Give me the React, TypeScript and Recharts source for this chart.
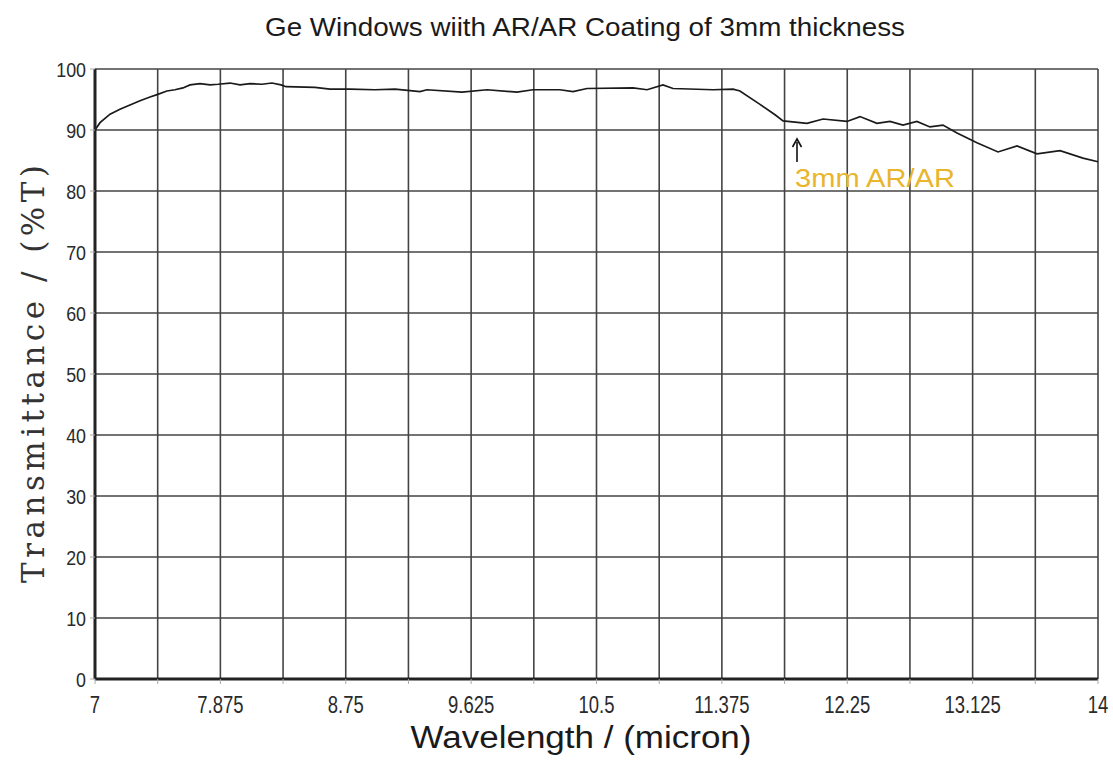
import React from 'react';
import { LineChart, Line, XAxis, YAxis, CartesianGrid } from 'recharts';

const wavelength = [
  7.0, 7.035, 7.105, 7.174, 7.244, 7.314, 7.384, 7.433, 7.502, 7.558, 7.614, 7.663,
  7.733, 7.803, 7.858, 7.942, 8.012, 8.082, 8.165, 8.235, 8.298, 8.333, 8.535, 8.64,
  8.78, 8.954, 9.094, 9.268, 9.317, 9.561, 9.736, 9.945, 10.057, 10.245, 10.336, 10.434,
  10.755, 10.853, 10.964, 11.034, 11.313, 11.453, 11.501, 11.641, 11.746, 11.802, 11.969,
  12.081, 12.248, 12.339, 12.457, 12.548, 12.639, 12.736, 12.827, 12.918, 13.016, 13.155,
  13.302, 13.435, 13.574, 13.735, 13.895, 14.0,
];
const transmittance = [
  90.0, 91.2, 92.6, 93.4, 94.1, 94.8, 95.4, 95.8, 96.4, 96.6, 96.9, 97.4,
  97.6, 97.4, 97.5, 97.7, 97.4, 97.6, 97.5, 97.7, 97.4, 97.1, 97.0, 96.7,
  96.7, 96.6, 96.7, 96.3, 96.6, 96.2, 96.6, 96.2, 96.6, 96.6, 96.3, 96.8,
  96.9, 96.6, 97.4, 96.8, 96.6, 96.7, 96.4, 94.2, 92.5, 91.5, 91.1,
  91.8, 91.4, 92.2, 91.1, 91.4, 90.8, 91.4, 90.5, 90.8, 89.5, 87.9,
  86.4, 87.4, 86.1, 86.6, 85.4, 84.8,
];
const xTicks = [7, 7.4375, 7.875, 8.3125, 8.75, 9.1875, 9.625, 10.0625, 10.5, 10.9375, 11.375, 11.8125, 12.25, 12.6875, 13.125, 13.5625, 14];
const yTicks = [0, 10, 20, 30, 40, 50, 60, 70, 80, 90, 100];

const title = 'Ge Windows wiith AR/AR Coating of 3mm thickness';
const xLabel = 'Wavelength / (micron)';
const yLabel = 'Transmittance / (%T)';
const annotation = '3mm AR/AR';

const data = wavelength.map((w, i) => ({ w, t: transmittance[i] }));

const XTick = (props: any) => {
  const { x, y, payload, index } = props;
  if (index % 2 !== 0) return null;
  return (
    <g transform={`translate(${x},${y + 27})`}>
      <text transform="scale(0.77,1)" textAnchor="middle" fontFamily="Liberation Sans, Arial, sans-serif" fontSize={24} fill="#2a2a2a">
        {String(payload.value)}
      </text>
    </g>
  );
};

const YTick = (props: any) => {
  const { x, y, payload } = props;
  return (
    <g transform={`translate(${x - 2},${y + 7.5})`}>
      <text transform="scale(0.85,1)" textAnchor="end" fontFamily="Liberation Sans, Arial, sans-serif" fontSize={21} fill="#2a2a2a">
        {String(payload.value)}
      </text>
    </g>
  );
};

export default function App() {
  return (
    <div style={{ position: 'absolute', left: 0, top: 0, width: 1113, height: 761, background: '#fff' }}>
      <LineChart width={1113} height={761} data={data} margin={{ top: 69, right: 15, bottom: 0, left: 0 }}>
        <CartesianGrid stroke="#444" strokeWidth={1.6} horizontal vertical />
        <XAxis
          dataKey="w"
          type="number"
          domain={[7, 14]}
          ticks={xTicks}
          interval={0}
          height={82}
          tickSize={5}
          tickMargin={2}
          axisLine={{ stroke: '#222', strokeWidth: 3 }}
          tickLine={{ stroke: '#aaa', strokeWidth: 1 }}
          tick={<XTick />}
        />
        <YAxis
          type="number"
          domain={[0, 100]}
          ticks={yTicks}
          interval={0}
          width={95}
          tickSize={5}
          tickMargin={2}
          axisLine={{ stroke: '#222', strokeWidth: 3 }}
          tickLine={{ stroke: '#aaa', strokeWidth: 1 }}
          tick={<YTick />}
        />
        <Line type="linear" dataKey="t" stroke="#1a1a1a" strokeWidth={1.7} dot={false} isAnimationActive={false} />
      </LineChart>
      <svg width={1113} height={761} style={{ position: 'absolute', left: 0, top: 0, pointerEvents: 'none' }}>
        <text x={585} y={36} textAnchor="middle" fontFamily="Liberation Sans, Arial, sans-serif" fontSize={25} fill="#1a1a1a" textLength={640} lengthAdjust="spacingAndGlyphs">
          {title}
        </text>
        <text x={581} y={748} textAnchor="middle" fontFamily="Liberation Sans, Arial, sans-serif" fontSize={31} fill="#1a1a1a" textLength={341} lengthAdjust="spacingAndGlyphs">
          {xLabel}
        </text>
        <text transform="translate(44,374) rotate(-90)" textAnchor="middle" fontFamily="DejaVu Serif, Liberation Serif, serif" fontSize={31} fill="#333" textLength={418} lengthAdjust="spacing">
          {yLabel}
        </text>
        <line x1={797} y1={162} x2={797} y2={142} stroke="#111" strokeWidth={1.6} />
        <path d="M792.5,147 L797,139 L801.5,147" fill="none" stroke="#111" strokeWidth={1.6} />
        <text x={795} y={187} fontFamily="Liberation Sans, Arial, sans-serif" fontSize={25} fill="#E8B52C" textLength={160} lengthAdjust="spacingAndGlyphs">
          {annotation}
        </text>
      </svg>
    </div>
  );
}
